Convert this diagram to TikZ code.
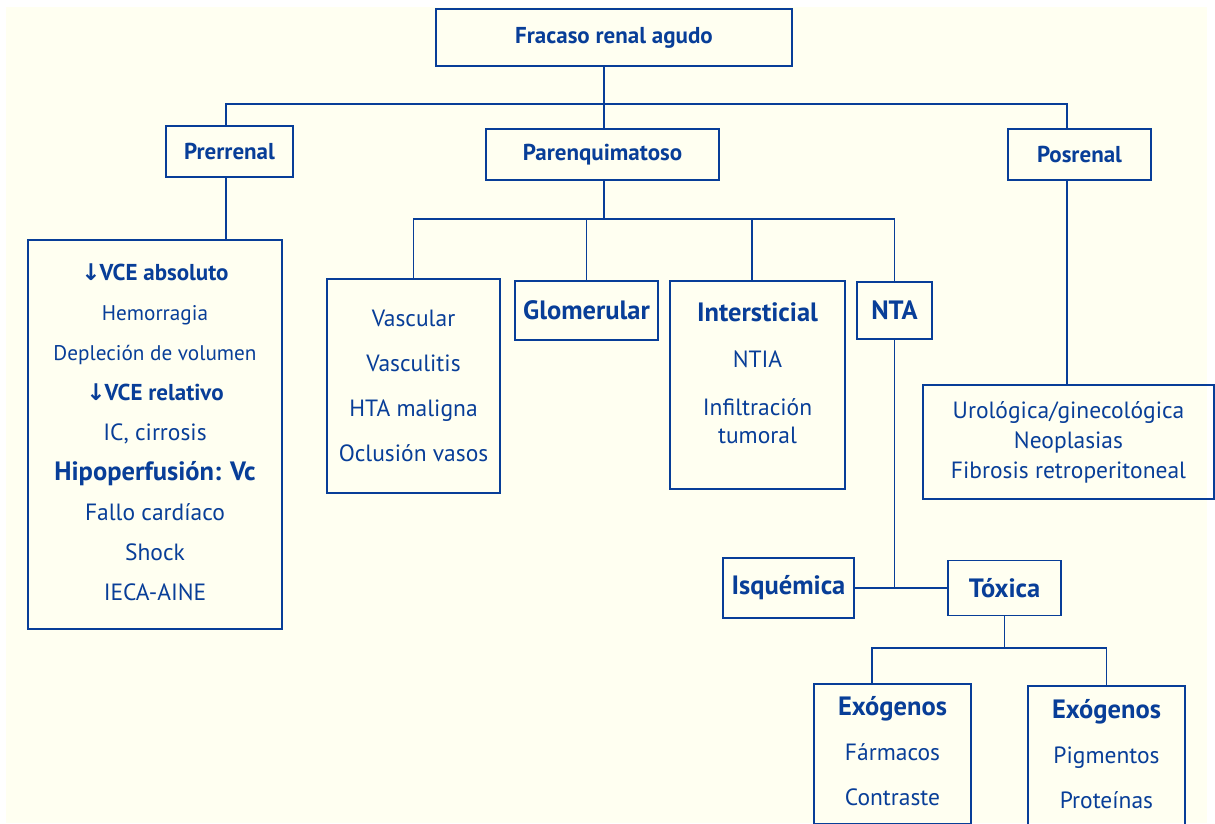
\documentclass[tikz,border=0pt]{standalone}
\usepackage{fontspec}
\setmainfont{PT Sans}
\newfontfamily\arrowfont{DejaVu Sans}
\definecolor{ink}{RGB}{8,62,152}
\definecolor{paper}{RGB}{255,255,241}
\newcommand{\sbold}[1][26]{\bfseries\fontsize{23}{#1}\selectfont}
\newcommand{\bbold}[1][30]{\bfseries\fontsize{26.5}{#1}\selectfont}
\newcommand{\sreg}[1][25]{\mdseries\fontsize{21.2}{#1}\selectfont}
\newcommand{\breg}[1][28]{\mdseries\fontsize{23.5}{#1}\selectfont}
\newcommand{\dn}{{\arrowfont\bfseries\char"2193}\kern-1pt}
\tikzset{
  box/.style={draw=ink, line width=1.4pt, text=ink, align=center, inner sep=0pt},
  wire/.style={draw=ink, line width=1.4pt},
}
\begin{document}
\begin{tikzpicture}[x=1pt, y=-1pt]
\clip (0,0) rectangle (1215,823);
\fill[white] (0,0) rectangle (1215,823);
\fill[paper] (6,7) rectangle (1207,823);

\node[box, font=\sbold, minimum width=356pt, minimum height=57pt] (root) at (614,37.5) {Fracaso renal agudo};
\node[box, font=\sbold, minimum width=127pt, minimum height=51pt] (prer) at (229.5,151.5) {Prerrenal};
\node[box, font=\sbold, minimum width=233pt, minimum height=51pt] (paren) at (602.5,154.5) {Parenquimatoso};
\node[box, font=\sbold, minimum width=143pt, minimum height=51pt] (posr) at (1079.5,154.5) {Posrenal};

\node[box, font={\sreg[40]}, text depth=5pt, minimum width=254pt, minimum height=389pt] (vce) at (155,434.5)
  {\sbold\dn VCE absoluto\\ Hemorragia\\ Depleción de volumen\\ \sbold\dn VCE relativo\\
   \breg IC, cirrosis\\ \bbold Hipoperfusión: Vc\\ \breg Fallo cardíaco\\ \breg Shock\\ \breg IECA-AINE};
\node[box, font={\breg[45]}, minimum width=173pt, minimum height=214pt] (vasc) at (413.5,386)
  {Vascular\\ Vasculitis\\ HTA maligna\\ Oclusión vasos};
\node[box, font=\bbold, minimum width=143pt, minimum height=59pt] (glom) at (586.5,310.5) {Glomerular};
\node[box, font={\bbold[28]}, text depth=23pt, minimum width=175pt, minimum height=208pt] (inter) at (757.5,385)
  {Intersticial\\[18pt] \breg NTIA\\[20pt] \breg Infiltración\\ \breg tumoral};
\node[box, font=\bbold, minimum width=75pt, minimum height=57pt] (nta) at (894.5,310.5) {NTA};
\node[box, font={\breg[30]}, minimum width=291pt, minimum height=114pt] (uro) at (1068.5,442)
  {Urológica/ginecológica\\ Neoplasias\\ Fibrosis retroperitoneal};

\node[box, font=\bbold, minimum width=131pt, minimum height=60pt] (isq) at (788.5,588) {Isquémica};
\node[box, font=\bbold, minimum width=113pt, minimum height=55pt] (tox) at (1004.5,588) {Tóxica};
\node[box, font={\breg[45]}, text depth=7pt, minimum width=157pt, minimum height=140pt] (exoa) at (892.5,754)
  {\bbold Exógenos\\ Fármacos\\ Contraste};
\node[box, font={\breg[45]}, text depth=4pt, minimum width=157pt, minimum height=140pt] (exob) at (1106.5,756)
  {\bbold Exógenos\\ Pigmentos\\ Proteínas};

\coordinate (b1) at (604,104);
\coordinate (b2) at (604,219);
\coordinate (b3) at (1004.5,648);
\draw[wire] (root.south -| b1) -- (paren.north -| b1);
\draw[wire] ([xshift=-3.5pt]prer.north) |- (b1) -| ([xshift=-12.5pt]posr.north);
\draw[wire] ([xshift=-3.5pt]prer.south) -- ([xshift=-3.5pt]prer.south |- vce.north);
\draw[wire] ([xshift=-12.5pt]posr.south) -- ([xshift=-12.5pt]posr.south |- uro.north);
\draw[wire] (paren.south -| b2) -- (b2);
\draw[wire] (vasc.north) |- (b2) -| (nta.north);
\draw[wire] (glom.north) -- (glom.north |- b2);
\draw[wire] ([xshift=-5.5pt]inter.north) -- ([xshift=-5.5pt]inter.north |- b2);
\draw[wire] (nta.south) -- (nta.south |- tox.west);
\draw[wire] (isq.east) -- (tox.west);
\draw[wire] (tox.south) -- (b3);
\draw[wire] ([xshift=-20.5pt]exoa.north) |- (b3) -| (exob.north);
\end{tikzpicture}
\end{document}
